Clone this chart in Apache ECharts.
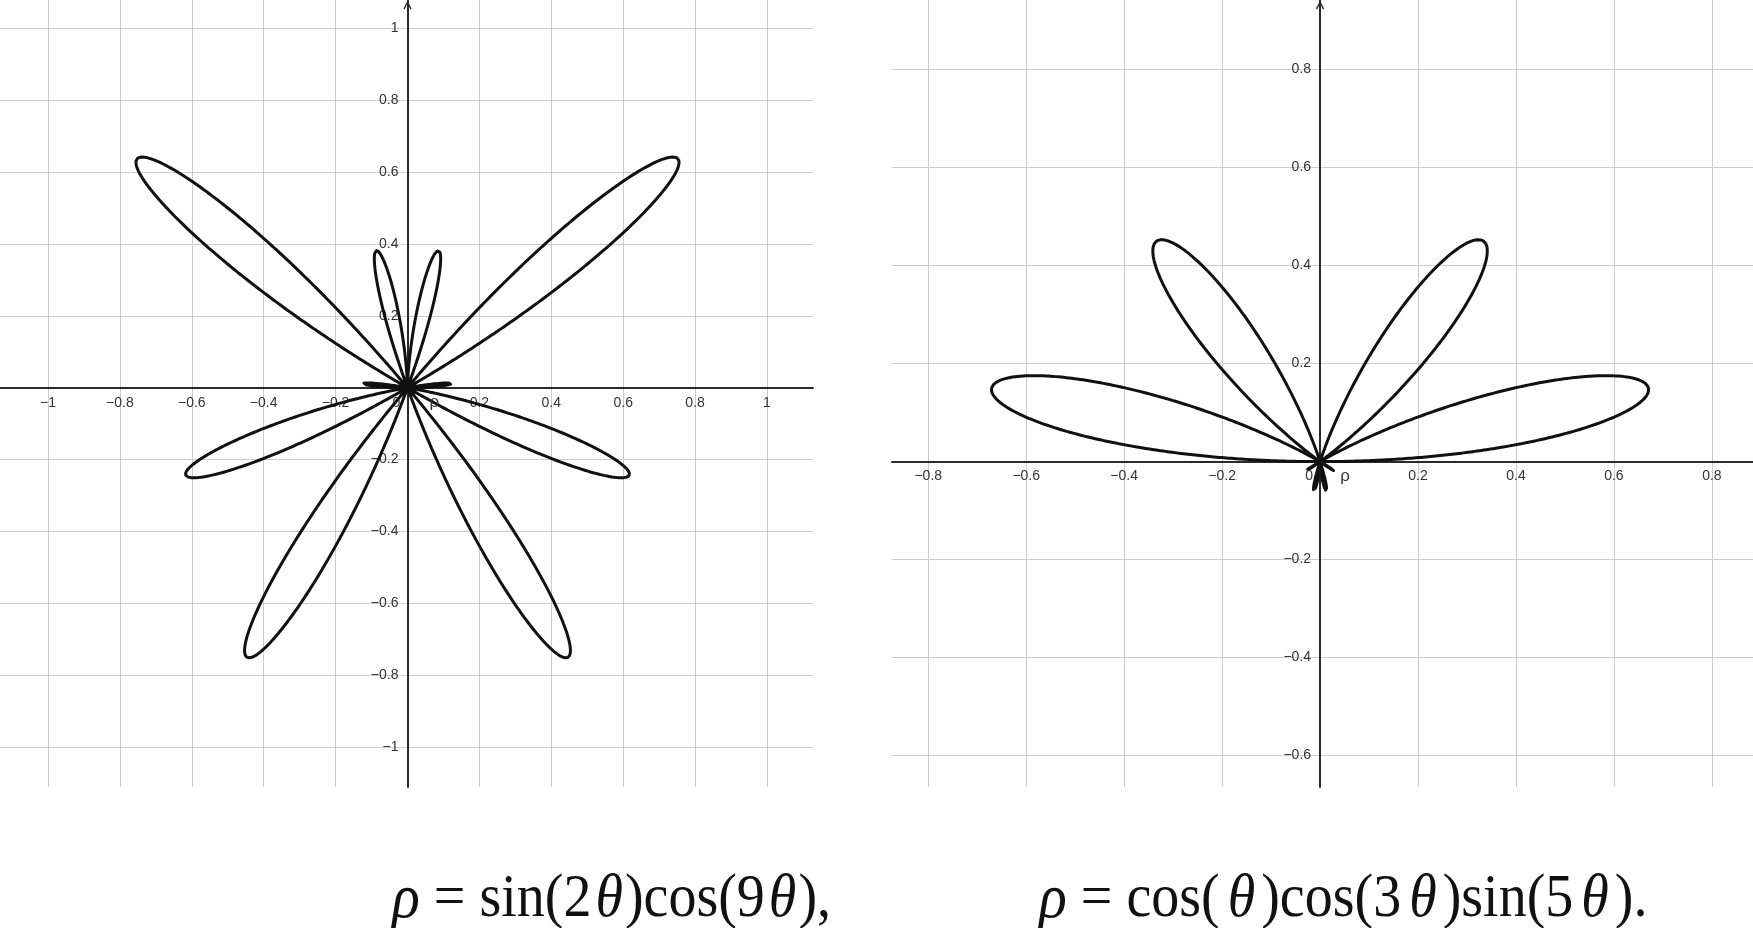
<!DOCTYPE html>
<html>
<head>
<meta charset="utf-8">
<script src="https://cdn.jsdelivr.net/npm/echarts@6/dist/echarts.min.js"></script>
<style>html,body{margin:0;padding:0;background:#fff;}#c{width:1753px;height:928px;}</style>
</head>
<body>
<div id="c"></div>
<script>
// ---- data ----
const leftXTicks = [-1, -0.8, -0.6, -0.4, -0.2, 0, 0.2, 0.4, 0.6, 0.8, 1];
const leftYTicks = [-1, -0.8, -0.6, -0.4, -0.2, 0, 0.2, 0.4, 0.6, 0.8, 1];
const rightXTicks = [-0.8, -0.6, -0.4, -0.2, 0, 0.2, 0.4, 0.6, 0.8];
const rightYTicks = [-0.6, -0.4, -0.2, 0, 0.2, 0.4, 0.6, 0.8];
// visible window of each plot, in axis units
const leftXRange = [-1.1335, 1.128];
const leftYRange = [-1.1107, 1.0785];
const rightXRange = [-0.874, 0.884];
const rightYRange = [-0.664, 0.942];
// polar curves as given in the captions: rho(theta) = product of trig factors [fn, multiplier]
const leftFactors = [['sin', 2], ['cos', 9]];
const rightFactors = [['cos', 1], ['cos', 3], ['sin', 5]];
const curveName = 'ρ';
const leftNameAt = [0.075, -0.04];
const rightNameAt = [0.051, -0.029];
const leftCaption = '{r|ρ}{n| = sin(2}{t|θ}{n|)cos(9}{t|θ}{n|),}';
const rightCaption = '{r|ρ}{n| = cos(}{u|θ}{n|)cos(3}{u|θ}{n|)sin(5}{u|θ}{n|).}';

// ---- build polar curve points ----
function polarCurve(factors, steps) {
  const pts = [];
  for (let i = 0; i <= steps; i++) {
    const th = Math.PI * i / steps;
    let r = 1;
    factors.forEach(f => { r *= Math[f[0]](f[1] * th); });
    pts.push([r * Math.cos(th), r * Math.sin(th)]);
  }
  return pts;
}
const leftPts = polarCurve(leftFactors, 3000);
const rightPts = polarCurve(rightFactors, 3000);

const SANS = '"Liberation Sans", Arial, sans-serif';
const SERIF = '"Liberation Serif", "Times New Roman", serif';
const gridColor = '#cccccc';
const axisColor = '#2a2a2a';
const labelColor = '#333';

function fmt(v) {
  if (Math.abs(v) < 1e-9) return '{z|0}';
  const s = String(+Math.abs(v).toFixed(1));
  return (v < 0 ? '\u2212' : '') + s;
}
const chevron = 'path://M0,10 L5,0 L10,10 L8.4,10.8 L5,3.4 L1.6,10.8 Z';

function xAxis(gi, ticks, range) {
  return {
    type: 'value', gridIndex: gi, min: range[0], max: range[1], position: 'bottom', offset: 0,
    axisLine: { show: true, onZero: false, lineStyle: { color: axisColor, width: 2 } },
    axisTick: { show: false, customValues: ticks },
    axisLabel: {
      customValues: ticks, formatter: fmt, color: labelColor, fontSize: 14,
      fontFamily: SANS, margin: 8,
      rich: { z: { fontSize: 14, fontFamily: SANS, color: labelColor, padding: [0, 22, 0, 0] } }
    },
    splitLine: { show: true, lineStyle: { color: gridColor, width: 1 } }
  };
}
function yAxis(gi, ticks, range) {
  return {
    type: 'value', gridIndex: gi, min: range[0], max: range[1], position: 'left', offset: 0,
    axisLine: { show: true, onZero: false, symbol: ['none', chevron], symbolSize: [12, 9],
      symbolOffset: [0, -5], lineStyle: { color: axisColor, width: 2 } },
    axisTick: { show: false, customValues: ticks },
    axisLabel: {
      customValues: ticks.filter(v => Math.abs(v) > 1e-9), formatter: fmt,
      color: labelColor, fontSize: 14, fontFamily: SANS, margin: 9
    },
    splitLine: { show: true, lineStyle: { color: gridColor, width: 1 } }
  };
}
function curve(idx, pts, nameAt) {
  return {
    type: 'line', xAxisIndex: idx, yAxisIndex: idx, data: pts,
    showSymbol: false, symbol: 'none', silent: true, clip: false,
    lineStyle: { color: '#111', width: 3, join: 'round', cap: 'round' },
    markPoint: {
      symbol: 'circle', symbolSize: 0, silent: true,
      label: { show: true, formatter: curveName, color: labelColor, fontSize: 17, fontFamily: SANS },
      data: [{ coord: nameAt }]
    }
  };
}
const capRich = {
  r: { fontFamily: SERIF, fontSize: 58, fontStyle: 'italic', fill: '#111' },
  n: { fontFamily: SERIF, fontSize: 56, fill: '#111' },
  t: { fontFamily: SERIF, fontSize: 56, fontStyle: 'italic', fill: '#111', padding: [0, 2, 0, 4] },
  u: { fontFamily: SERIF, fontSize: 56, fontStyle: 'italic', fill: '#111', padding: [0, 6, 0, 8] }
};

const grids = [
  { left: 0, top: 0, width: 813, height: 787, outerBoundsMode: 'none', containLabel: false },
  { left: 892, top: 0, width: 861, height: 787, outerBoundsMode: 'none', containLabel: false }
];
const chart = echarts.init(document.getElementById('c'), null, { renderer: 'canvas' });
chart.setOption({
  animation: false,
  backgroundColor: '#fff',
  grid: grids,
  xAxis: [xAxis(0, leftXTicks, leftXRange), xAxis(1, rightXTicks, rightXRange)],
  yAxis: [yAxis(0, leftYTicks, leftYRange), yAxis(1, rightYTicks, rightYRange)],
  series: [curve(0, leftPts, leftNameAt), curve(1, rightPts, rightNameAt)],
  graphic: [
    { type: 'text', x: 392, y: 900, scaleY: 1.1, silent: true,
      style: { text: leftCaption, rich: capRich, fill: '#111', font: '56px ' + SERIF, align: 'left', verticalAlign: 'middle' } },
    { type: 'text', x: 1039, y: 900, scaleY: 1.1, silent: true,
      style: { text: rightCaption, rich: capRich, fill: '#111', font: '56px ' + SERIF, align: 'left', verticalAlign: 'middle' } }
  ]
});
// move each axis (line + labels) onto the origin using the library's own scale
const xOff = [], yOff = [];
grids.forEach((g, i) => {
  const o = chart.convertToPixel({ gridIndex: i }, [0, 0]);
  xOff.push(-((g.top + g.height) - o[1]));
  yOff.push(-(o[0] - g.left));
});
chart.setOption({
  xAxis: [{ offset: xOff[0] }, { offset: xOff[1] }],
  yAxis: [{ offset: yOff[0] }, { offset: yOff[1] }]
});
</script>
</body>
</html>
